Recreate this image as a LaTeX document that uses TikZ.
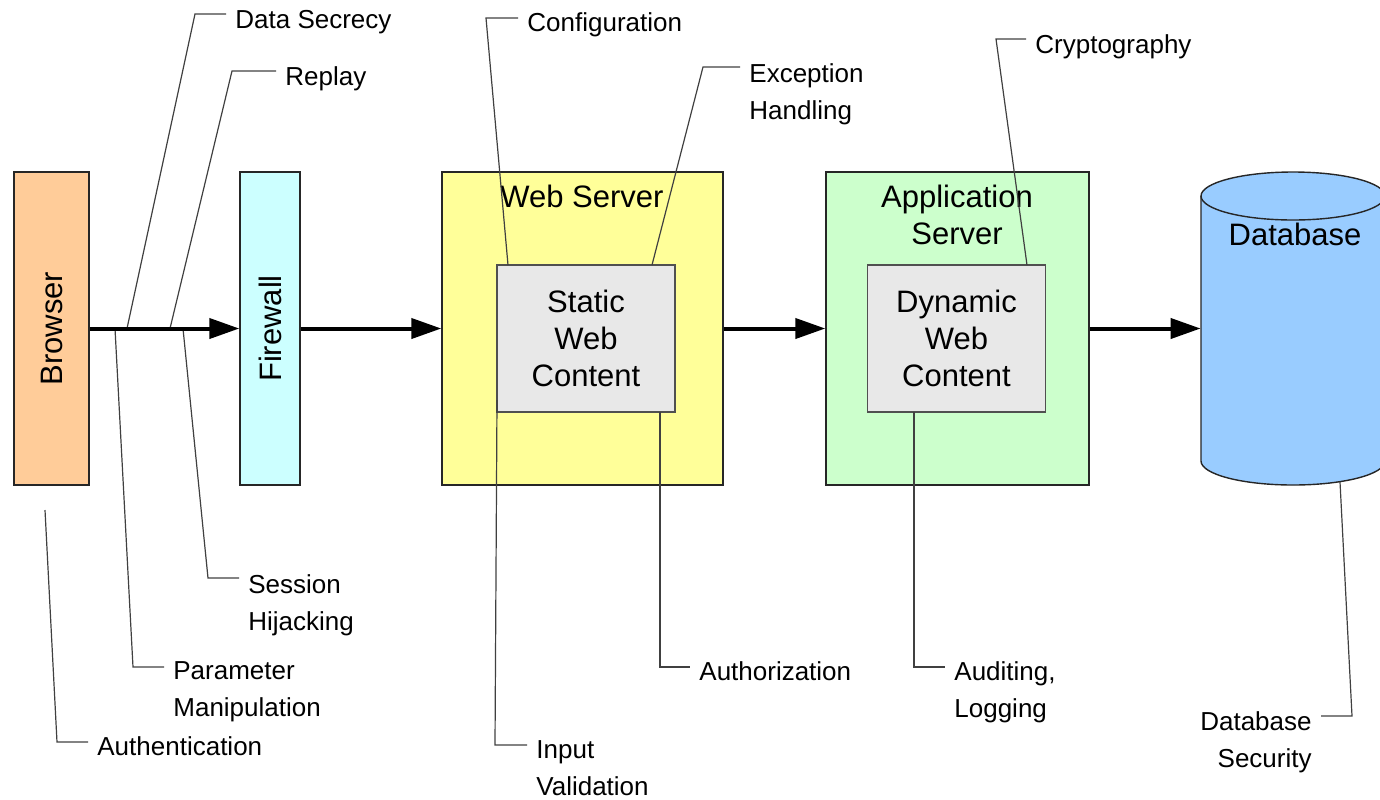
\documentclass[tikz,border=0pt]{standalone}
\usepackage{fontspec}
\setmainfont{Liberation Sans}
\usetikzlibrary{arrows.meta}
\definecolor{browserfill}{HTML}{FFCC99}
\definecolor{fwfill}{HTML}{CCFFFF}
\definecolor{webfill}{HTML}{FFFF99}
\definecolor{appfill}{HTML}{CCFFCC}
\definecolor{contentfill}{HTML}{E8E8E8}
\definecolor{dbfill}{HTML}{99CCFF}
\definecolor{callgray}{HTML}{404040}
\definecolor{boxline}{HTML}{262626}
\definecolor{innerline}{HTML}{505050}
\newcommand\lftlines[1]{\vtop{\halign{##\hfil\cr#1\crcr}}}
\newcommand\rgtlines[1]{\vtop{\halign{\hfil##\cr#1\crcr}}}
\newcommand\ctrlines[1]{\vtop{\halign{\hfil##\hfil\cr#1\crcr}}}
\begin{document}
\begin{tikzpicture}[x=0.5pt,y=0.5pt,
  box/.style={draw=boxline, line width=0.7pt, inner sep=0pt},
  inner/.style={draw=innerline, line width=0.8pt, fill=contentfill, inner sep=0pt,
    minimum width=89pt, minimum height=73.5pt, align=center, font=\fontsize{15.5}{18.5}\selectfont},
  big/.style={font=\fontsize{15.5}{18.5}\selectfont, inner sep=0pt},
  lbl/.style={font=\fontsize{13}{18.5}\selectfont, inner xsep=4.5pt, inner ysep=0pt},
  callout/.style={draw=callgray, line width=0.6pt, line join=miter},
  flow/.style={line width=2pt, -{Triangle[length=15pt,width=10pt]}}]
\useasboundingbox (0,0) rectangle (1380,-799);

% main boxes
\node[box, fill=browserfill, minimum width=37.5pt, minimum height=156.5pt, big] (browser) at (51.5,-328.5) {\rotatebox{90}{Browser}};
\node[box, fill=fwfill, minimum width=30pt, minimum height=156.5pt, big] (firewall) at (270,-328.5) {\rotatebox{90}{Firewall}};
\node[box, fill=webfill, minimum width=140.5pt, minimum height=156.5pt] (web) at (582.5,-328.5) {};
\node[box, fill=appfill, minimum width=131.5pt, minimum height=156.5pt] (app) at (957.5,-328.5) {};
\node[big, anchor=base] (webl) at (582,-207) {Web Server};
\node[big, anchor=base] (appl) at (957,-207) {\ctrlines{Application\cr Server}};
\node[inner] (static) at (586,-338.5) {Static\\Web\\Content};
\node[inner] (dynamic) at (956.5,-338.5) {Dynamic\\Web\\Content};

% database cylinder
\node[minimum width=92pt, minimum height=156.5pt, inner sep=0pt] (db) at (1293,-328.5) {};
\filldraw[draw=boxline, line width=0.7pt, fill=dbfill]
  (1201,-196) -- (1201,-461) arc[start angle=180, end angle=360, x radius=46pt, y radius=12pt]
  -- (1385,-196) arc[start angle=0, end angle=180, x radius=46pt, y radius=12pt] -- cycle;
\draw[draw=boxline, line width=0.7pt] (1201,-196) arc[start angle=180, end angle=360, x radius=46pt, y radius=12pt];
\node[big, anchor=base] (dbl) at (1295,-245) {Database};

% callout labels
\node[lbl, anchor=base west] (lds) at (226,-28) {Data Secrecy};
\node[lbl, anchor=base west] (lrp) at (276,-85) {Replay};
\node[lbl, anchor=base west] (lpm) at (164,-679) {\lftlines{Parameter\cr Manipulation}};
\node[lbl, anchor=base west] (lsh) at (239,-593) {\lftlines{Session\cr Hijacking}};
\node[lbl, anchor=base west] (lau) at (88,-755) {Authentication};
\node[lbl, anchor=base west] (lcf) at (518,-31) {Configuration};
\node[lbl, anchor=base west] (leh) at (740,-82) {\lftlines{Exception\cr Handling}};
\node[lbl, anchor=base west] (liv) at (527,-758) {\lftlines{Input\cr Validation}};
\node[lbl, anchor=base west] (laz) at (690,-680) {Authorization};
\node[lbl, anchor=base west] (lcr) at (1026,-53) {Cryptography};
\node[lbl, anchor=base west] (lal) at (945,-680) {\lftlines{Auditing,\cr Logging}};
\node[lbl, anchor=base east] (ldb) at (1321,-730) {\rgtlines{Database\cr Security}};

% callout anchor points and corners
\coordinate (cds) at (127,-328.5);  \coordinate (kds) at (195,-14);
\coordinate (crp) at (170,-328.5);  \coordinate (krp) at (232,-71);
\coordinate (cpm) at (115,-328.5);  \coordinate (kpm) at (133,-667);
\coordinate (csh) at (183,-328.5);  \coordinate (ksh) at (208,-578);
\coordinate (cau) at (45,-510);     \coordinate (kau) at (57,-742);
\coordinate (ccf) at (508,-265);    \coordinate (kcf) at (486,-18);
\coordinate (ceh) at (652,-265);    \coordinate (keh) at (703,-67);
\coordinate (civ) at (497,-400);    \coordinate (kiv) at (495,-745);
\coordinate (caz) at (660,-412);    \coordinate (kaz) at (660,-667);
\coordinate (ccr) at (1027,-265);   \coordinate (kcr) at (996,-39);
\coordinate (cal) at (914,-412);    \coordinate (kal) at (914,-667);
\coordinate (cdb) at (1340,-482);   \coordinate (kdb) at (1352,-716);

\draw[callout] (cds) -- (kds) -- (kds -| lds.west);
\draw[callout] (crp) -- (krp) -- (krp -| lrp.west);
\draw[callout] (cpm) -- (kpm) -- (kpm -| lpm.west);
\draw[callout] (csh) -- (ksh) -- (ksh -| lsh.west);
\draw[callout] (cau) -- (kau) -- (kau -| lau.west);
\draw[callout] (ccf) -- (kcf) -- (kcf -| lcf.west);
\draw[callout] (ceh) -- (keh) -- (keh -| leh.west);
\draw[callout] (civ) -- (kiv) -- (kiv -| liv.west);
\draw[callout] (caz) -- (kaz) -- (kaz -| laz.west);
\draw[callout] (ccr) -- (kcr) -- (kcr -| lcr.west);
\draw[callout] (cal) -- (kal) -- (kal -| lal.west);
\draw[callout] (cdb) -- (kdb) -- (kdb -| ldb.east);

% flow arrows
\draw[flow] (browser.east) -- (firewall.west);
\draw[flow] (firewall.east) -- (web.west);
\draw[flow] (web.east) -- (app.west);
\draw[flow] (app.east) -- (db.west);
\end{tikzpicture}
\end{document}
